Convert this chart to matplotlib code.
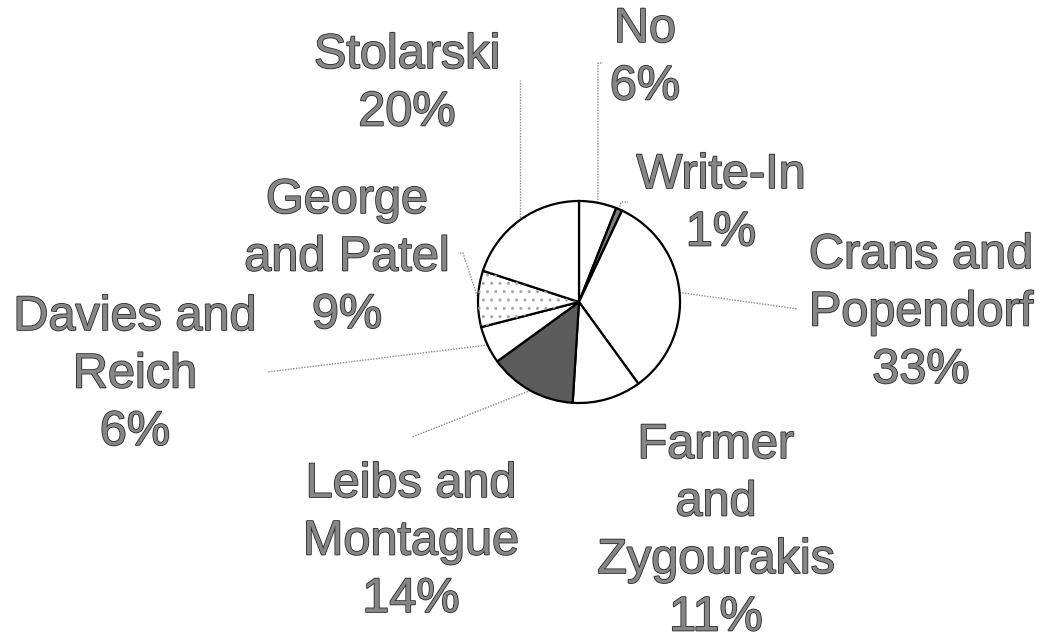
import numpy as np
import matplotlib.pyplot as plt
import matplotlib.patheffects as pe
from matplotlib.patches import Wedge

# slices, clockwise from 12 o'clock
names = ['No', 'Write-In', 'Crans and\nPopendorf', 'Farmer\nand\nZygourakis',
         'Leibs and\nMontague', 'Davies and\nReich', 'George\nand Patel', 'Stolarski']
shares = [6, 1, 33, 11, 14, 6, 9, 20]
fills = ['white', '#7f7f7f', 'white', 'white', '#5c5c5c', 'white', 'white', 'white']

# label placement (pixel units, y down): centre x, first baseline
label_pos = [(645, 42), (721, 188), (921, 268), (716, 458),
             (411, 497), (135, 330), (347, 213), (407, 68)]
# leader line end points (None = no leader)
leaders = [[(598, 63), (603, 63)], [(621, 202), (628, 202)], [(798, 309)], None,
           [(412, 437)], [(267, 372)], [(463, 253), (458, 253)], [(None, 80)]]

W, H = 1043, 632
cx, cy, r = 579, 302, 101

fig = plt.figure(figsize=(W / 100, H / 100), dpi=100)
ax = fig.add_axes([0, 0, 1, 1])
ax.axis('off')

# y axis is inverted: startangle -90 points up, counterclock draws clockwise on screen
wedges, _ = ax.pie(shares, colors=fills, startangle=-90, counterclock=True,
                   radius=r, center=(cx, cy), normalize=True,
                   wedgeprops=dict(edgecolor='black', linewidth=1.6))
ax.set_xlim(0, W)
ax.set_ylim(H, 0)
ax.set_aspect('equal')

# dotted fill on George and Patel
w = wedges[6]
ax.add_patch(Wedge((cx, cy), r, w.theta1, w.theta2, fill=False, hatch='..',
                   edgecolor='#a8a8a8', linewidth=0, zorder=w.get_zorder() + 0.1))

fx = [pe.withStroke(linewidth=1.2, foreground='#2a2a2a')]
cum = np.cumsum([0] + shares) / sum(shares)
for i, name in enumerate(names):
    lines = name.split('\n') + [f'{shares[i]}%']
    x0, y0 = label_pos[i]
    for j, t in enumerate(lines):
        ax.text(x0, y0 + j * 57.5, t, ha='center', va='baseline', fontsize=35,
                family='Liberation Sans', color='#868686', path_effects=fx)
    if leaders[i] is None:
        continue
    phi = 2 * np.pi * (cum[i] + cum[i + 1]) / 2
    sx, sy = cx + r * np.sin(phi), cy - r * np.cos(phi)
    pts = [(sx, sy)] + [(sx if px is None else px, py) for px, py in leaders[i]]
    xs, ys = zip(*pts)
    ax.plot(xs, ys, color='#8a8a8a', lw=1.0, ls=(0, (1, 1)), zorder=0.5)

fig.savefig('out.png', dpi=100)
